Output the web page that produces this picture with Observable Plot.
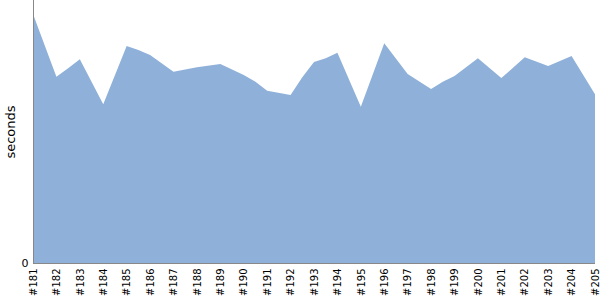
<!DOCTYPE html>
<html>
<head>
<meta charset="utf-8">
<script src="https://cdn.jsdelivr.net/npm/d3@7"></script>
<script src="https://cdn.jsdelivr.net/npm/@observablehq/plot@0.6"></script>
<style>
  html, body { margin: 0; padding: 0; background: #fff; }
  svg { display: block; }
</style>
</head>
<body>
<div id="chart"></div>
<script>
const builds = [181, 182, 182.5, 183, 184, 185, 185.5, 186, 187, 188, 189, 190, 190.5, 191, 192, 192.5, 193, 193.5, 194, 195, 196, 197, 198, 198.5, 199, 200, 201, 201.5, 202, 203, 204, 205];
const seconds = [249, 186.3, 194.7, 203.7, 158.7, 217, 213, 208, 191.3, 195.7, 199, 188, 181.3, 172.3, 168, 185.7, 201, 204.7, 210.3, 156.3, 219.7, 189, 174, 181.3, 187, 204.7, 185, 195.3, 205.7, 197, 207, 168.7];
const tickBuilds = d3.range(181, 206);
const yTicks = [0];
const yLabel = "seconds";

const data = builds.map((b, i) => ({build: b, seconds: seconds[i]}));

const chart = Plot.plot({
  width: 600,
  height: 300,
  marginTop: 0,
  marginRight: 5,
  marginBottom: 37,
  marginLeft: 33,
  style: {fontFamily: "DejaVu Sans, sans-serif", fontSize: "10px", color: "#000"},
  x: {domain: [181, 205]},
  y: {domain: [0, 263]},
  marks: [
    Plot.areaY(data, {x: "build", y: "seconds", fill: "#8fb1d9"}),
    Plot.ruleX([181], {stroke: "#888", strokeWidth: 1}),
    Plot.ruleY([0], {stroke: "#888", strokeWidth: 1}),
    Plot.axisX({ticks: tickBuilds, tickFormat: d => "#" + d, tickRotate: -90, tickSize: 0, tickPadding: 5, label: null, fontSize: 10}),
    Plot.axisY({ticks: yTicks, tickSize: 0, tickPadding: 5, label: null, fontSize: 11}),
    Plot.text([yLabel], {frameAnchor: "left", text: d => d, rotate: -90, textAnchor: "middle", dx: -23, fontSize: 13, fill: "#000"})
  ]
});
document.getElementById("chart").appendChild(chart);
</script>
</body>
</html>
